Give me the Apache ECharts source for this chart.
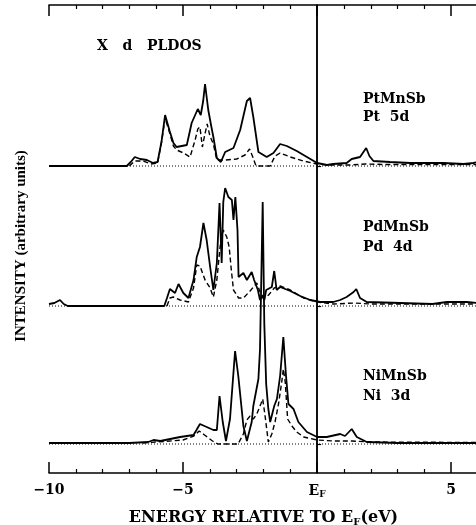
<!DOCTYPE html>
<html>
<head>
<meta charset="utf-8">
<script src="https://cdn.jsdelivr.net/npm/echarts@6/dist/echarts.min.js"></script>
<style>
  html, body { margin: 0; padding: 0; background: #fff; }
  #chart { width: 476px; height: 525px; }
</style>
</head>
<body>
<div id="chart"></div>
<script>
  // energies (eV, relative to E_F) and intensities (arbitrary units, above each panel's baseline)
  const ptSolidE = [-10, -7.1, -6.95, -6.8, -6.6, -6.35, -6.12, -5.95, -5.8, -5.67, -5.5, -5.36, -5.24, -5.05, -4.86, -4.68, -4.45, -4.34, -4.25, -4.18, -4.12, -4.06, -3.95, -3.87, -3.74, -3.59, -3.43, -3.12, -2.87, -2.62, -2.5, -2.38, -2.19, -1.88, -1.63, -1.38, -1.13, -0.76, -0.38, 0, 0.36, 0.6, 1.1, 1.29, 1.6, 1.83, 1.95, 2.1, 2.72, 3.47, 4.7, 5.46, 5.83, 6]
  const ptSolidH = [0, 0, 4, 9, 7, 6, 3, 4, 25, 51, 35, 23, 19, 20, 21, 43, 57, 51, 65, 82, 69, 56, 40, 29, 8, 4, 14, 18, 36, 65, 68, 49, 14, 9, 13, 22, 20, 15, 9, 3, 1, 2, 3, 7, 9, 18, 10, 5, 4, 3, 3, 2, 3, 4]
  const ptDashE = [-7.0, -6.8, -6.5, -6.2, -5.95, -5.8, -5.67, -5.5, -5.36, -5.24, -4.98, -4.74, -4.55, -4.45, -4.37, -4.28, -4.2, -4.1, -4.0, -3.87, -3.74, -3.43, -3.0, -2.69, -2.52, -2.4, -2.28, -1.75, -1.57, -1.38, -1.0, -0.51, 0, 0.5, 1.2, 1.8, 2.5, 3.5, 5, 6]
  const ptDashH = [0, 5, 5, 2, 3, 24, 48, 33, 20, 16, 13, 9, 26, 37, 39, 19, 30, 42, 30, 22, 6, 6, 7, 11, 17, 9, 0, 0, 10, 13, 9, 5, 2, 1, 1, 2, 1.5, 1.5, 1.5, 1.5]

  const pdSolidE = [-10, -9.8, -9.59, -9.45, -9.3, -5.7, -5.6, -5.49, -5.43, -5.3, -5.17, -4.99, -4.8, -4.61, -4.49, -4.37, -4.24, -4.12, -3.99, -3.87, -3.74, -3.64, -3.56, -3.5, -3.43, -3.31, -3.18, -3.12, -3.05, -2.97, -2.93, -2.75, -2.62, -2.44, -2.35, -2.21, -2.13, -2.05, -1.97, -1.9, -1.69, -1.6, -1.51, -1.38, -1.0, -0.63, -0.26, 0.11, 0.6, 0.86, 1.1, 1.36, 1.46, 1.6, 1.85, 3.1, 4.3, 4.84, 5.58, 6]
  const pdSolidH = [2, 3, 6, 2, 0, 0, 8, 17, 18, 13, 22, 13, 8, 26, 49, 59, 83, 66, 39, 16, 43, 103, 43, 104, 118, 109, 106, 86, 109, 76, 29, 33, 26, 34, 26, 16, 6, 10, 6, 16, 19, 35, 16, 19, 15, 10, 6, 4, 4, 6, 9, 14, 17, 8, 4, 3, 2, 4, 4, 3]
  const pdDashE = [-5.6, -5.49, -5.36, -5.11, -4.8, -4.61, -4.49, -4.37, -4.18, -3.99, -3.87, -3.74, -3.62, -3.5, -3.37, -3.28, -3.2, -3.12, -2.93, -2.75, -2.5, -2.25, -2.1, -1.95, -1.81, -1.6, -1.38, -1.0, -0.51, 0, 0.6, 1.4, 2, 6]
  const pdDashH = [0, 8, 9, 6, 4, 18, 41, 40, 26, 18, 9, 26, 59, 76, 69, 59, 36, 16, 8, 8, 15, 23, 12, 8, 11, 18, 20, 16, 8, 4, 2, 3, 2, 2]

  const niSolidE = [-10, -7, -6.3, -6.1, -5.85, -5.11, -4.61, -4.5, -4.37, -4.12, -3.87, -3.74, -3.64, -3.52, -3.4, -3.25, -3.06, -2.94, -2.75, -2.62, -2.44, -2.38, -2.19, -2.13, -2.03, -1.97, -1.9, -1.82, -1.75, -1.6, -1.5, -1.38, -1.26, -1.16, -1.07, -0.88, -0.7, -0.38, 0, 0.36, 0.86, 1.04, 1.29, 1.48, 1.85, 3, 6]
  const niSolidH = [1, 1, 2, 4, 3, 7, 9, 14, 20, 17, 14, 14, 48, 22, 3, 25, 93, 68, 18, 3, 22, 38, 65, 95, 242, 120, 60, 35, 22, 38, 45, 68, 107, 68, 40, 35, 22, 12, 7, 7, 10, 8, 15, 7, 2, 1, 1]
  const niDashE = [-6.5, -5, -4.6, -4.4, -4.2, -3.9, -3.7, -2.95, -2.75, -2.62, -2.5, -2.38, -2.25, -2.1, -2.03, -1.95, -1.82, -1.69, -1.57, -1.44, -1.32, -1.26, -1.19, -1.1, -0.94, -0.76, -0.5, 0, 0.6, 1.3, 2, 6]
  const niDashH = [1, 4, 8, 13, 9, 3, 0, 0, 10, 24, 28, 25, 30, 40, 45, 30, 2, 10, 22, 40, 62, 75, 62, 25, 18, 12, 7, 4, 3, 3, 2, 1.5]

  const panelLabels = [['PtMnSb', 'Pt  5d'], ['PdMnSb', 'Pd  4d'], ['NiMnSb', 'Ni  3d']]
  const xTicks = {'-10': '\u221210', '-5': '\u22125', '0': '{e|E}{f|F}', '5': '5'}

  const font = 'DejaVu Serif'
  const ptBase = 307, pdBase = 167, niBase = 29

  function curve(E, H, base, dash, width) {
    return {
      type: 'line',
      data: E.map((e, i) => [e, base + H[i]]),
      showSymbol: false,
      silent: true,
      lineStyle: {color: '#000', width: width, type: dash}
    }
  }
  function baseline(base) {
    return curve([-10, 6], [0, 0], base, [1, 2], 1)
  }

  let chart = echarts.init(document.getElementById('chart'))
  let tickStyle = {
    axisLine: {lineStyle: {color: '#000', width: 1.5}},
    axisTick: {inside: true, length: 11, lineStyle: {color: '#000', width: 1.5}},
    minorTick: {show: true, splitNumber: 5, length: 4, lineStyle: {color: '#000', width: 1.2}},
    splitLine: {show: false}
  }
  let textBold = {fontFamily: font, fontWeight: 'bold', color: '#000'}
  let series = [
    baseline(ptBase), baseline(pdBase), baseline(niBase),
    curve(ptDashE, ptDashH, ptBase, [5, 3], 1.4),
    curve(pdDashE, pdDashH, pdBase, [5, 3], 1.4),
    curve(niDashE, niDashH, niBase, [5, 3], 1.4),
    curve(ptSolidE, ptSolidH, ptBase, 'solid', 1.8),
    curve(pdSolidE, pdSolidH, pdBase, 'solid', 1.8),
    curve(niSolidE, niSolidH, niBase, 'solid', 1.8)
  ]
  series[0].markLine = {
    silent: true,
    symbol: 'none',
    label: {show: false},
    lineStyle: {color: '#000', width: 1.5, type: 'solid'},
    data: [{xAxis: 0}]
  }
  let labelTop = [[92, 110], [220, 240], [369, 389]]
  let graphics = [{
    type: 'text', left: 97, top: 39,
    style: Object.assign({text: 'X   d   PLDOS', fontSize: 14}, textBold)
  }, {
    type: 'text', x: 21, y: 246, rotation: Math.PI / 2,
    style: Object.assign({text: 'INTENSITY (arbitrary units)', fontSize: 15, align: 'center', verticalAlign: 'middle'},
      textBold, {fontFamily: 'Liberation Serif'})
  }]
  panelLabels.forEach((pair, i) => {
    pair.forEach((t, j) => {
      graphics.push({
        type: 'text', left: 363, top: labelTop[i][j],
        style: Object.assign({text: t, fontSize: 14}, textBold)
      })
    })
  })

  chart.setOption({
    animation: false,
    grid: {left: 49, right: -2, top: 5, bottom: 52, outerBoundsMode: 'none'},
    xAxis: [Object.assign({
      type: 'value', min: -10, max: 6, interval: 5,
      axisLabel: Object.assign({
        margin: 10, fontSize: 14,
        formatter: v => xTicks[String(v)] || '',
        rich: {
          e: Object.assign({fontSize: 14}, textBold),
          f: Object.assign({fontSize: 9, padding: [7, 0, 0, 0]}, textBold)
        }
      }, textBold),
      name: '{t|ENERGY RELATIVE TO E}{f|F}{t|(eV)}',
      nameLocation: 'middle',
      nameGap: 36,
      nameTextStyle: {
        rich: {
          t: Object.assign({fontSize: 16}, textBold),
          f: Object.assign({fontSize: 10, padding: [8, 0, 0, 0]}, textBold)
        }
      }
    }, tickStyle), Object.assign({
      type: 'value', min: -10, max: 6, interval: 5, position: 'top',
      axisLabel: {show: false}
    }, tickStyle)],
    yAxis: {
      type: 'value', min: 0, max: 468,
      axisLine: {show: true, lineStyle: {color: '#000', width: 1.5}},
      axisTick: {show: true, inside: true, length: 4, customValues: [niBase, pdBase, ptBase], lineStyle: {color: '#000', width: 1.2}},
      axisLabel: {show: false},
      splitLine: {show: false}
    },
    graphic: graphics,
    series: series
  })
</script>
</body>
</html>
